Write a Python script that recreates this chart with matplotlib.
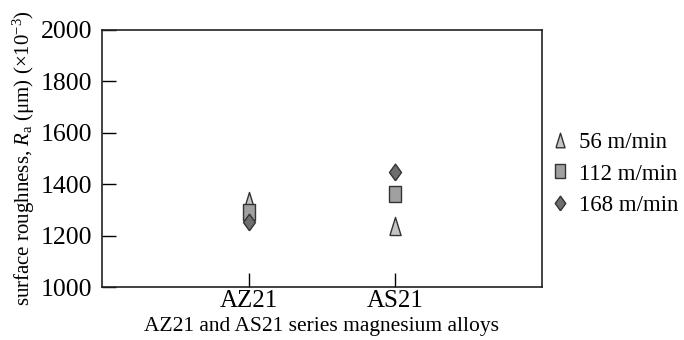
import matplotlib
matplotlib.use("Agg")
import matplotlib.pyplot as plt
from matplotlib.lines import Line2D

plt.rcParams['font.family'] = ['Liberation Serif', 'DejaVu Serif']
plt.rcParams['mathtext.fontset'] = 'custom'
plt.rcParams['mathtext.rm'] = 'Liberation Serif'
plt.rcParams['mathtext.it'] = 'Liberation Serif:italic'

alloys = ['AZ21', 'AS21']
speeds = ['56 m/min', '112 m/min', '168 m/min']
ra_56 = [1335, 1237]
ra_112 = [1292, 1362]
ra_168 = [1253, 1447]
yticks = [1000, 1200, 1400, 1600, 1800, 2000]

tri = [(-0.62, -1), (0.62, -1), (0, 1), (-0.62, -1)]
sq = [(-0.72, -1), (0.72, -1), (0.72, 1), (-0.72, 1), (-0.72, -1)]
dia = [(0, -1), (0.72, 0), (0, 1), (-0.72, 0), (0, -1)]

styles = [(ra_56, tri, '#c4c4c4', 13, 10.5), (ra_112, sq, '#a0a0a0', 11.5, 10), (ra_168, dia, '#6e6e6e', 12, 10.5)]

fig = plt.figure(figsize=(6.84, 3.40), dpi=100)
ax = fig.add_axes([102/684, 1 - 287/340, 440/684, 257/340])

xs = [1, 2]
handles = []
for vals, mk, col, ms, lms in styles:
    ax.plot(xs, vals, linestyle='none', marker=mk, markersize=ms,
            markerfacecolor=col, markeredgecolor='#333333', markeredgewidth=1.0)
    handles.append(Line2D([], [], linestyle='none', marker=mk, markersize=lms,
                          markerfacecolor=col, markeredgecolor='#333333', markeredgewidth=1.0))

ax.set_xlim(0, 3)
ax.set_ylim(1000, 2000)
ax.set_xticks(xs)
ax.set_xticklabels(alloys, fontsize=18)
ax.set_yticks(yticks)
ax.set_yticklabels([str(t) for t in yticks], fontsize=18.5)
ax.tick_params(axis='y', direction='in', length=10, width=1.0, pad=7, right=False)
ax.tick_params(axis='x', direction='in', length=10, width=1.0, pad=2, top=False)
for s in ax.spines.values():
    s.set_linewidth(1.2)
    s.set_color('#222222')

ax.set_xlabel('AZ21 and AS21 series magnesium alloys', fontsize=15.5, labelpad=4)
ax.set_ylabel(r'surface roughness, $R_{\mathrm{a}}$ ($\mathrm{\mu}$m) ($\times$10$^{-3}$)', fontsize=15, labelpad=3)

fig.legend(handles, speeds, loc='center left', bbox_to_anchor=(551/684, 1 - 174/340),
           frameon=False, fontsize=16.5, handlelength=0.8, handletextpad=0.42,
           labelspacing=0.45, borderaxespad=0, borderpad=0)

fig.savefig('out.png', dpi=100)
